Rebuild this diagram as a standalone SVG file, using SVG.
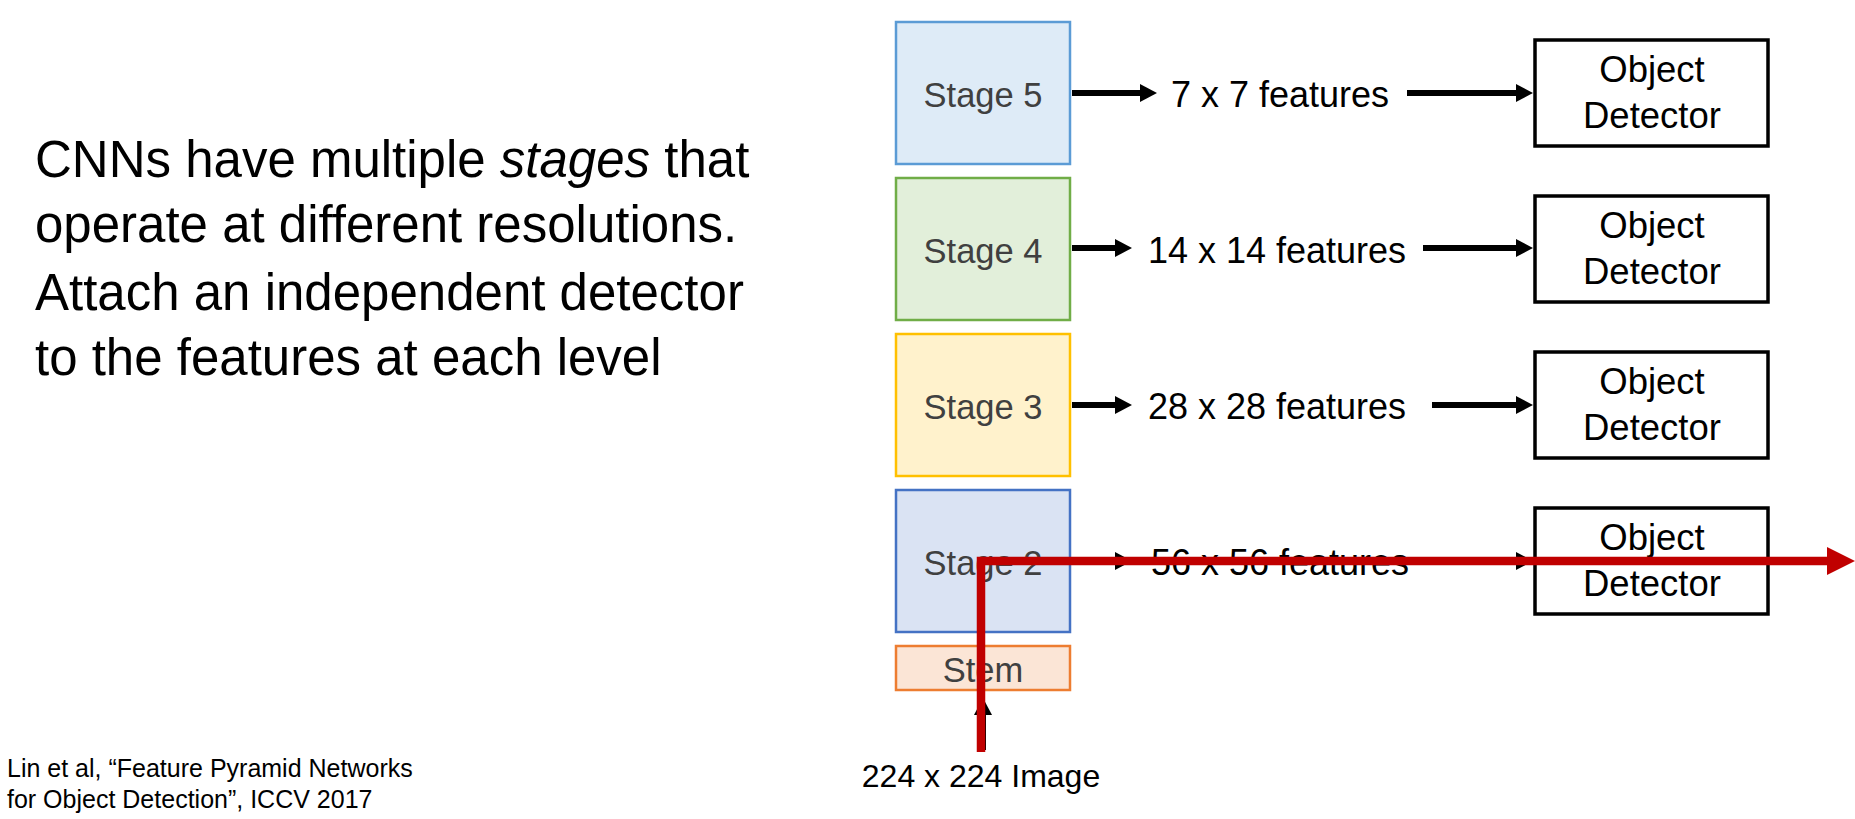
<svg xmlns="http://www.w3.org/2000/svg" width="1855" height="819" viewBox="0 0 1855 819">
<style>
text{font-family:"Liberation Sans",Arial,sans-serif;}
.stage{stroke-width:2.5;}
.slbl{font-size:34.5px;fill:#404040;text-anchor:middle;}
.det rect{fill:#fff;stroke:#000;stroke-width:3.5;}
.dlbl{font-size:36.5px;fill:#000;text-anchor:middle;}
.feat{font-size:36px;fill:#000;text-anchor:middle;}
.body{font-size:51px;fill:#000;}
.cite{font-size:25px;fill:#000;}
.arr{stroke:#000;stroke-width:6;fill:none;marker-end:url(#ah);}
.red{stroke:#C00000;stroke-width:8.5;fill:none;stroke-linejoin:miter;marker-end:url(#rh);}
</style>
<defs>
<marker id="ah" markerUnits="userSpaceOnUse" markerWidth="17" markerHeight="18" refX="2" refY="9" orient="auto"><path d="M0,0 L17,9 L0,18 Z" fill="#000"/></marker>
<marker id="rh" markerUnits="userSpaceOnUse" markerWidth="28" markerHeight="28" refX="2" refY="14" orient="auto"><path d="M0,0 L28,14 L0,28 Z" fill="#C00000"/></marker>
</defs>
<rect width="1855" height="819" fill="#fff"/>
<g id="caption">
<text class="body" x="35" y="177">CNNs have multiple <tspan font-style="italic">stages</tspan> that</text>
<text class="body" x="35" y="242">operate at different resolutions.</text>
<text class="body" x="35" y="310">Attach an independent detector</text>
<text class="body" x="35" y="375">to the features at each level</text>
</g>
<g id="citation">
<text class="cite" x="7" y="777">Lin et al, “Feature Pyramid Networks</text>
<text class="cite" x="7" y="808">for Object Detection”, ICCV 2017</text>
</g>
<g id="stage5"><rect class="stage" x="896" y="22" width="174" height="142" fill="#DEEBF7" stroke="#5B9BD5"/><text class="slbl" x="983" y="107">Stage 5</text></g>
<g id="stage4"><rect class="stage" x="896" y="178" width="174" height="142" fill="#E2EFDA" stroke="#70AD47"/><text class="slbl" x="983" y="263">Stage 4</text></g>
<g id="stage3"><rect class="stage" x="896" y="334" width="174" height="142" fill="#FFF2CC" stroke="#FFC000"/><text class="slbl" x="983" y="419">Stage 3</text></g>
<g id="stage2"><rect class="stage" x="896" y="490" width="174" height="142" fill="#DAE3F3" stroke="#4472C4"/><text class="slbl" x="983" y="575">Stage 2</text></g>
<g id="stem"><rect class="stage" x="896" y="646" width="174" height="44" fill="#FBE5D6" stroke="#ED7D31"/><text class="slbl" x="983" y="682">Stem</text></g>
<g id="image"><text class="feat" style="font-size:32px" x="981" y="787">224 x 224 Image</text></g>
<g id="feat5"><text class="feat" x="1280" y="107">7 x 7 features</text></g>
<g id="feat4"><text class="feat" x="1277" y="263">14 x 14 features</text></g>
<g id="feat3"><text class="feat" x="1277" y="419">28 x 28 features</text></g>
<g id="feat2"><text class="feat" x="1280" y="575">56 x 56 features</text></g>
<g id="det5" class="det"><rect x="1535" y="40" width="233" height="106"/><text class="dlbl" x="1652" y="82">Object</text><text class="dlbl" x="1652" y="128">Detector</text></g>
<g id="det4" class="det"><rect x="1535" y="196" width="233" height="106"/><text class="dlbl" x="1652" y="238">Object</text><text class="dlbl" x="1652" y="284">Detector</text></g>
<g id="det3" class="det"><rect x="1535" y="352" width="233" height="106"/><text class="dlbl" x="1652" y="394">Object</text><text class="dlbl" x="1652" y="440">Detector</text></g>
<g id="det2" class="det"><rect x="1535" y="508" width="233" height="106"/><text class="dlbl" x="1652" y="550">Object</text><text class="dlbl" x="1652" y="596">Detector</text></g>
<g id="connectors">
<line class="arr" x1="1072" y1="93" x2="1142" y2="93"/>
<line class="arr" x1="1072" y1="248" x2="1117" y2="248"/>
<line class="arr" x1="1072" y1="405" x2="1117" y2="405"/>
<line class="arr" x1="1072" y1="561" x2="1117" y2="561"/>
<line class="arr" x1="1407" y1="93" x2="1518" y2="93"/>
<line class="arr" x1="1423" y1="248" x2="1518" y2="248"/>
<line class="arr" x1="1432" y1="405" x2="1518" y2="405"/>
<line class="arr" x1="1425" y1="561" x2="1518" y2="561"/>
<line class="arr" x1="983" y1="750" x2="983" y2="713"/>
<path class="red" d="M981,752 L981,561 L1829,561"/>
</g>
</svg>
